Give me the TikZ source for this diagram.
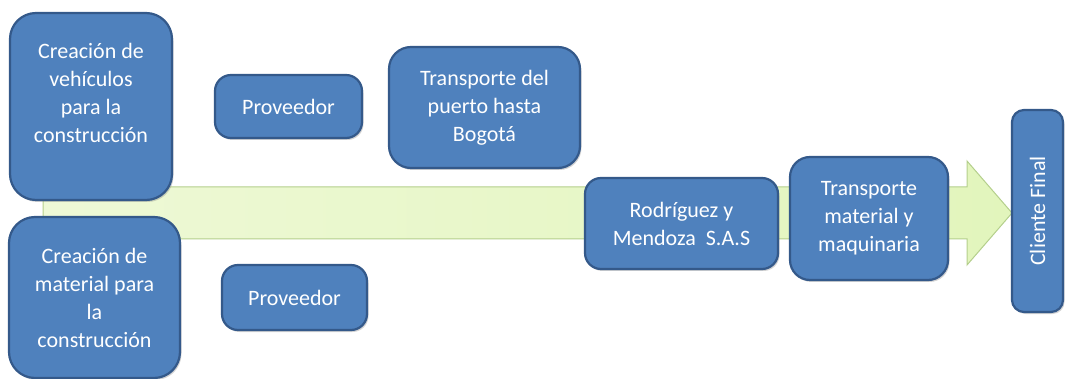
\documentclass[tikz,border=0pt]{standalone}
\usepackage{fontspec}
\setmainfont{Carlito}
\usetikzlibrary{shadows}

\definecolor{boxblue}{HTML}{4F81BD}
\definecolor{boxline}{HTML}{34598A}
\definecolor{flowlight}{HTML}{EEF9D6}
\definecolor{flowdark}{HTML}{E2F5BC}
\definecolor{flowline}{HTML}{B4CF8C}

\begin{document}
\begin{tikzpicture}[x=1pt,y=-1pt,
    stage/.style={draw=boxline, line width=2.2pt, fill=boxblue, rounded corners=16pt,
        text=white, align=center, font=\fontsize{22}{28}\selectfont, inner sep=0pt,
        drop shadow={opacity=0.35, shadow xshift=1.5pt, shadow yshift=-2pt}},
    bigstage/.style={stage, rounded corners=26pt}]
    \useasboundingbox (0,0) rectangle (1065,379);
    % flow arrow behind the boxes
    \draw [flowline, line width=1pt, left color=flowlight, right color=flowdark]
        (43,187) -- (967,187) -- (967,161) -- (1012,213) -- (967,265)
        -- (967,239) -- (43,239) -- cycle;
    \node (crea_veh) [bigstage, minimum width=162pt, minimum height=187pt] at (91,106.5)
        {Creación de\\vehículos\\para la\\construcción\\\mbox{}};
    \node (crea_mat) [bigstage, minimum width=171pt, minimum height=161pt] at (94.5,297.5)
        {Creación de\\material para\\la\\construcción};
    \node (prov_veh) [stage, minimum width=147pt, minimum height=63pt] at (288.5,106.5) {Proveedor};
    \node (prov_mat) [stage, minimum width=145pt, minimum height=65pt] at (294.5,297.5) {Proveedor};
    \node (puerto) [stage, rounded corners=22pt, minimum width=191pt, minimum height=121pt] at (484.5,107.5)
        {Transporte del\\puerto hasta\\Bogotá};
    \node (rym) [stage, minimum width=193pt, minimum height=91pt] at (681.5,223.5)
        {Rodríguez y\\Mendoza\ \ S.A.S};
    \node (transp) [stage, rounded corners=20pt, minimum width=158pt, minimum height=123pt] at (869,218.5)
        {Transporte\\material y\\maquinaria};
    \node (cliente) [stage, rounded corners=12pt, rotate=90, minimum width=202pt, minimum height=51pt]
        at (1037.5,211) {Cliente Final};
\end{tikzpicture}
\end{document}
